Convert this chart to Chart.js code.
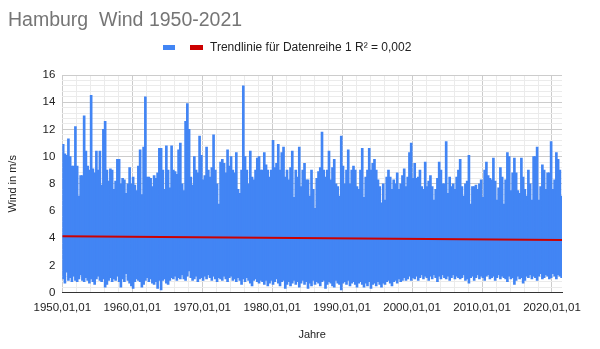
<!DOCTYPE html>
<html lang="de">
<head>
<meta charset="utf-8">
<title>Hamburg Wind 1950-2021</title>
<script src="https://cdn.jsdelivr.net/npm/chart.js@4.4.1/dist/chart.umd.min.js"></script>
<style>
  html, body { margin: 0; padding: 0; background: #fff; }
  #wrap { width: 600px; height: 349px; }
</style>
</head>
<body>
<div id="wrap"><canvas id="wind"></canvas></div>
<script>
// ---------- Daten ----------
// Quartals-Spannweite der Tageswerte (m/s), ab 1950 Q1
const startYear = 1950;
const binYears  = 0.25;

const highs = [
  10.9, 10.2, 10.1, 11.3, 10.0,  9.3,  9.3, 12.2,  9.3,  7.1,  8.6,  8.6,
  13.0, 10.4,  9.3,  9.0, 14.5,  9.1,  8.8, 10.4,  9.0, 10.4,  7.9, 12.0,
  12.6,  9.0,  8.2,  9.1,  9.0,  7.6,  8.2,  9.8,  9.8,  8.0,  8.4,  8.3,
   7.3,  8.0,  9.2,  8.0,  8.5,  7.9,  7.5,  9.3, 10.5,  7.2, 10.7, 14.4,
   8.5,  8.5,  8.4,  7.8,  8.6,  8.4,  8.8, 10.6,
  10.6,  9.0,  7.6, 10.8,  9.0,  7.7, 10.8,  9.0,  8.9,  8.7, 10.5, 11.0,
   8.0,  7.5, 12.6, 13.9, 12.0,  8.5,  7.9, 10.0,  9.0,  8.8, 11.5, 10.1,
   8.3,  8.6, 10.7,  9.0,  8.5,  9.2, 11.6,  9.0,  8.0,  6.5,  9.6,  9.8,
   9.5,  8.8, 10.5,  9.3, 10.0,  9.0,  8.8, 10.3,  7.6,  7.3,  9.0, 15.2,
  10.0,  9.0,  8.0, 10.4,  8.5,  8.3,  9.0,  9.9, 10.0,  9.0,
   9.0, 10.3,  9.4,  9.0,  8.5,  9.0, 11.2,  9.2,  9.5, 10.9,  9.0, 10.3,
  10.7,  8.5,  9.0,  8.3,  9.2, 10.4,  7.0,  9.0,  8.5, 10.7,  7.8,  9.0,
   9.5,  8.3,  8.3,  7.1,  9.0,  7.6,  6.2,  8.4,  8.9,  9.2, 11.8,  9.0,
   8.5,  9.0, 10.4,  8.3,  9.2,  9.8,  8.0,  7.8,  7.1, 11.5,  9.3,  8.0,
   9.0, 10.5,  8.0,  9.0,  9.3,  9.0,  7.8,  7.6,  9.0,
  10.6,  7.0,  8.5,  9.0, 10.6,  9.0,  9.5,  9.8,  9.0,  8.3,  7.8,  6.6,
   8.0,  6.8,  8.5,  9.0,  8.5,  7.6,  8.3,  8.0,  8.8,  7.6,  8.0,  8.6,
   9.1,  7.8,  8.5, 10.3, 11.0,  8.4,  9.5,  8.4,  8.5,  9.0,  7.8,  7.6,
   9.6,  7.8,  8.2,  8.6,  7.8,  6.8,  7.6,  8.4,  9.6,  9.0,  8.0,  8.0,
  11.1,  7.3,  8.5,  7.8,  8.0,  7.6,  8.5,  9.0,  9.8,
   7.8,  7.1,  8.0,  8.2, 10.1,  6.5,  7.8,  7.8,  7.9,  7.6,  8.0,  8.3,
   7.0,  9.0,  9.6,  8.6,  8.4,  8.3,  9.9,  8.2,  6.8,  7.7,  9.2,  8.5,
   6.5,  8.3, 10.3, 10.0,  7.5,  8.8,  9.9,  8.8,  7.5,  7.3,  9.9,  8.5,
   7.6,  7.1,  9.0,  8.0,  6.8, 10.0, 10.0, 10.7,  6.8,  7.8,  9.4,  9.0,
   7.6,  8.8,  8.8, 11.1,  7.6,  8.3, 10.3,  9.8,  9.0,  7.1
];

const lows = [
  1.0, 0.7, 1.5, 0.9, 1.1, 0.8, 1.2, 0.9, 0.8, 1.0, 1.3, 0.9,
  0.8, 1.1, 0.9, 0.7, 1.0, 0.8, 0.6, 1.0, 1.2, 0.9, 0.8, 1.0,
  0.4, 0.6, 0.9, 1.1, 0.8, 1.0, 0.9, 1.2, 0.8, 0.4, 1.0, 0.8,
  1.4, 0.9, 0.7, 0.5, 0.3, 0.8, 1.0, 0.9, 0.8, 0.4, 0.6, 0.9,
  1.1, 0.8, 1.0, 0.7, 0.6, 0.8, 0.3, 0.9,
  0.2, 0.9, 1.0, 0.7, 0.6, 0.9, 1.1, 1.0, 1.2, 0.9, 1.1, 1.0,
  1.3, 1.0, 0.9, 1.2, 1.6, 1.1, 0.9, 1.0, 1.2, 0.8, 1.0, 1.1,
  0.9, 1.2, 1.0, 1.3, 1.1, 0.9, 1.2, 1.0, 0.8, 1.1, 1.0, 0.9,
  1.2, 1.0, 0.8, 1.1, 1.2, 0.9, 1.0, 0.8, 1.1, 0.9, 0.6, 1.0,
  0.8, 1.1, 0.9, 0.7, 0.5, 0.9, 1.0, 0.8, 0.7, 0.9,
  0.8, 0.6, 0.9, 0.5, 0.7, 0.9, 0.6, 0.8, 1.0, 0.7, 0.5, 0.8,
  0.9, 0.3, 0.6, 0.8, 0.5, 0.7, 0.9, 0.6, 0.8, 0.4, 0.7, 0.9,
  0.6, 0.8, 0.3, 0.7, 0.5, 0.9, 0.6, 0.8, 0.7, 0.5, 0.8, 0.9,
  0.3, 0.6, 0.8, 0.7, 0.5, 0.4, 0.9, 0.7, 0.6, 0.2, 0.7, 0.8,
  0.6, 0.9, 0.5, 0.7, 0.8, 0.6, 0.4, 0.7, 0.8,
  0.6, 0.4, 0.7, 0.5, 0.8, 0.3, 0.6, 0.7, 0.5, 0.8, 0.6, 0.4,
  0.7, 0.6, 0.8, 0.9, 0.7, 0.5, 0.8, 0.9, 0.7, 1.0, 0.8, 0.9,
  1.1, 0.9, 1.0, 1.2, 0.9, 1.1, 1.0, 1.2, 0.9, 1.1, 1.3, 1.0,
  1.2, 1.1, 0.9, 1.2, 1.0, 1.3, 1.1, 0.8, 1.2, 1.0, 1.3, 1.1,
  1.0, 1.2, 0.9, 1.1, 1.3, 1.0, 1.2, 1.1, 1.0,
  1.1, 1.3, 0.9, 1.0, 0.7, 1.1, 1.2, 0.9, 1.1, 1.3, 1.0, 1.2,
  1.1, 0.9, 1.2, 1.3, 1.0, 1.1, 1.2, 0.9, 1.1, 1.3, 1.0, 1.2,
  1.1, 1.0, 0.8, 1.2, 1.0, 1.1, 0.6, 0.9, 1.2, 1.0, 1.1, 0.7,
  0.9, 1.2, 1.1, 1.3, 1.0, 1.2, 1.1, 0.9, 1.2, 1.4, 1.0, 1.1,
  1.3, 1.2, 1.0, 1.1, 1.4, 1.2, 1.0, 1.3, 1.2, 1.1
];

// Lineare Trendlinie (Start / Ende)
const trendYears  = [1950, 2021.43];
const trendValues = [4.15, 3.87];

const trendLabel = "Trendlinie für Datenreihe 1 R² = 0,002";

// ---------- Farben / Schrift ----------
const BLUE  = "#4285f4";
const RED   = "#cc0000";
const FONT  = "'Liberation Sans', Arial, sans-serif";

const windBars = highs.map((h, i) => ({
    x: startYear + binYears * (i + 0.5),
    y: [lows[i], h]
}));

const trendPoints = trendYears.map((x, i) => ({ x: x, y: trendValues[i] }));

// Titel + Legende werden direkt auf den Canvas geschrieben
const headerPlugin = {
    id: "header",
    afterDraw(chart) {
        const ctx = chart.ctx;
        ctx.save();
        ctx.textBaseline = "alphabetic";
        ctx.textAlign = "left";
        ctx.fillStyle = "#757575";
        ctx.font = `19.5px ${FONT}`;
        ctx.fillText("Hamburg  Wind 1950-2021", 8, 26);

        ctx.fillStyle = BLUE;
        ctx.fillRect(163, 45, 12, 5);
        ctx.fillStyle = RED;
        ctx.fillRect(190, 45, 13, 5);

        ctx.fillStyle = "#222";
        ctx.font = `12px ${FONT}`;
        ctx.textBaseline = "middle";
        ctx.fillText(trendLabel, 210, 47.5);
        ctx.restore();
    }
};

const isMajor = (v, step) => Math.abs(v / step - Math.round(v / step)) < 1e-6;

new Chart(document.getElementById("wind"), {
    type: "bar",
    data: {
        datasets: [
            {
                type: "line",
                label: trendLabel,
                data: trendPoints,
                borderColor: RED,
                borderWidth: 2,
                pointRadius: 0,
                fill: false,
                order: 0
            },
            {
                type: "bar",
                label: "",
                data: windBars,
                backgroundColor: BLUE,
                borderWidth: 0,
                barThickness: 2,
                order: 1
            }
        ]
    },
    options: {
        responsive: true,
        maintainAspectRatio: false,
        animation: false,
        layout: { padding: { top: 75, right: 38, bottom: 0, left: 0 } },
        plugins: {
            legend: { display: false },
            title: { display: false },
            tooltip: { enabled: false }
        },
        scales: {
            x: {
                type: "linear",
                min: 1950,
                max: 2021.43,
                offset: false,
                grid: {
                    offset: false,
                    drawTicks: false,
                    color: c => isMajor(c.tick.value, 10) ? "#cccccc" : "#ebebeb"
                },
                border: { color: "#333", width: 1 },
                ticks: {
                    stepSize: 2,
                    includeBounds: false,
                    autoSkip: false,
                    maxRotation: 0,
                    padding: 8,
                    color: "#222",
                    font: { family: FONT, size: 11.5 },
                    callback: v => isMajor(v, 10) ? `${v},01,01` : ""
                },
                title: {
                    display: true,
                    text: "Jahre",
                    color: "#222",
                    font: { family: FONT, size: 11 },
                    padding: { top: 6, bottom: 7.4 }
                }
            },
            y: {
                min: 0,
                max: 16,
                grid: {
                    drawTicks: false,
                    color: c => isMajor(c.tick.value, 2) ? "#cccccc" : "#ebebeb"
                },
                border: { display: false },
                ticks: {
                    stepSize: 0.4,
                    autoSkip: false,
                    padding: 7,
                    color: "#222",
                    font: { family: FONT, size: 11.5 },
                    callback: v => isMajor(v, 2) ? String(Math.round(v)) : ""
                },
                title: {
                    display: true,
                    text: "Wind in m/s",
                    color: "#222",
                    font: { family: FONT, size: 11 },
                    padding: { top: 6, bottom: 16.3 }
                }
            }
        }
    },
    plugins: [headerPlugin]
});
</script>
</body>
</html>
